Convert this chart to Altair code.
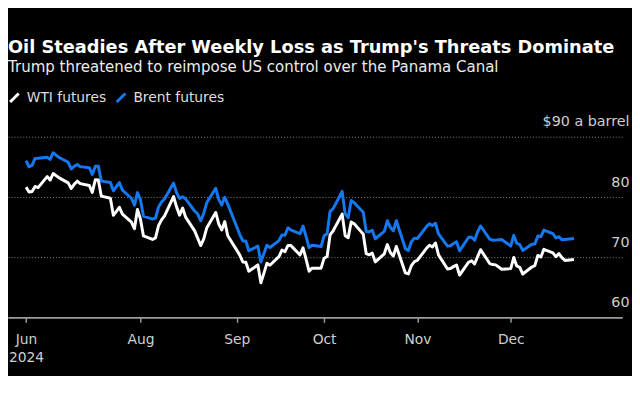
import altair as alt
import pandas as pd

FONT = "'DejaVu Sans', sans-serif"

# Trading days (Jun 24 - Dec 23, 2024)
jun_days = [24, 25, 26, 27, 28]
jul_days = [1, 2, 3, 5, 8, 9, 10, 11, 12, 15, 16, 17, 18, 19, 22, 23, 24, 25, 26, 29, 30, 31]
aug_days = [1, 2, 5, 6, 7, 8, 9, 12, 13, 14, 15, 16, 19, 20, 21, 22, 23, 26, 27, 28, 29, 30]
sep_days = [3, 4, 5, 6, 9, 10, 11, 12, 13, 16, 17, 18, 19, 20, 23, 24, 25, 26, 27, 30]
oct_days = [1, 2, 3, 4, 7, 8, 9, 10, 11, 14, 15, 16, 17, 18, 21, 22, 23, 24, 25, 28, 29, 30, 31]
nov_days = [1, 4, 5, 6, 7, 8, 11, 12, 13, 14, 15, 18, 19, 20, 21, 22, 25, 26, 27, 29]
dec_days = [2, 3, 4, 5, 6, 9, 10, 11, 12, 13, 16, 17, 18, 19, 20, 23]

wti = [
    81.63, 80.83, 80.90, 81.74, 81.54,
    83.38, 82.81, 83.88, 83.16, 82.33, 81.41, 82.10, 82.62, 82.21, 81.91, 80.76, 82.85, 82.82, 80.13, 79.78, 76.96, 77.59, 78.28, 77.16, 75.81, 74.73, 77.91,
    76.31, 73.52, 72.94, 73.20, 75.23, 76.19, 76.84, 80.06, 78.35, 76.98, 78.16, 76.65, 74.37, 73.17, 71.93, 73.01, 74.83, 77.42, 75.53, 74.52, 75.91, 73.55,
    70.34, 69.20, 69.15, 67.67, 68.71, 65.75, 67.31, 68.97, 68.65, 70.09, 71.19, 70.91, 71.95, 71.92, 70.37, 71.56, 69.69, 67.67, 68.18, 68.17,
    69.83, 70.10, 73.71, 74.38, 77.14, 73.57, 73.24, 75.85, 75.56, 73.83, 70.58, 70.39, 70.67, 69.22, 70.56, 72.09, 70.77, 70.19, 71.78, 67.38, 67.21, 68.61, 69.26,
    69.49, 71.47, 71.99, 71.69, 72.36, 70.38, 68.04, 68.12, 68.43, 68.70, 67.02, 69.16, 69.39, 68.87, 70.10, 71.24, 68.94, 68.77, 68.72, 68.00,
    68.10, 69.94, 68.54, 68.30, 67.20, 68.37, 68.59, 70.29, 70.02, 71.29, 70.71, 70.08, 70.58, 69.91, 69.46, 69.60,
]

brent = [
    86.01, 85.01, 85.25, 86.39, 86.41,
    86.60, 86.24, 87.34, 86.54, 85.75, 84.66, 85.08, 85.40, 85.03, 84.85, 83.73, 85.08, 85.11, 82.63, 82.40, 81.01, 81.71, 82.37, 81.13, 79.78, 78.63, 80.72,
    79.52, 76.81, 76.30, 76.48, 78.33, 79.16, 79.66, 82.30, 80.69, 79.76, 80.04, 79.68, 77.66, 77.20, 76.05, 77.22, 79.02, 81.43, 79.55, 78.65, 79.94, 78.80,
    73.75, 72.70, 72.69, 71.06, 71.84, 69.19, 70.61, 71.97, 71.61, 72.75, 73.70, 73.65, 74.88, 74.49, 73.90, 75.17, 73.46, 71.60, 71.98, 71.77,
    73.56, 73.90, 77.62, 78.05, 80.93, 77.18, 76.58, 79.40, 79.04, 77.46, 74.25, 74.22, 74.45, 73.06, 74.29, 76.04, 74.96, 74.38, 76.05, 71.42, 71.12, 72.55, 73.16,
    73.10, 75.08, 75.53, 75.25, 75.63, 73.87, 71.83, 71.89, 72.28, 72.56, 71.04, 73.30, 73.31, 72.81, 74.23, 75.17, 73.01, 72.81, 72.83, 72.94,
    71.83, 73.62, 72.31, 72.09, 71.12, 72.14, 72.19, 73.52, 73.41, 74.49, 73.91, 73.19, 73.39, 72.88, 72.94, 73.10,
]

series_names = ["WTI futures", "Brent futures"]
series_colors = ["#ffffff", "#1478f0"]
y_ticks = [60, 70, 80, 90]
x_ticks = [(2024, 6, 24), (2024, 8, 1), (2024, 9, 2), (2024, 10, 1), (2024, 11, 1), (2024, 12, 2)]
x_domain = [(2024, 6, 18), (2025, 1, 8)]

dates = []
for m, days in [(6, jun_days), (7, jul_days), (8, aug_days), (9, sep_days),
                (10, oct_days), (11, nov_days), (12, dec_days)]:
    for d in days:
        dates.append(f"2024-{m:02d}-{d:02d}")

df = pd.concat([
    pd.DataFrame({"date": dates, "series": series_names[0], "value": wti}),
    pd.DataFrame({"date": dates, "series": series_names[1], "value": brent}),
])


def dt(t):
    return alt.DateTime(year=t[0], month=t[1], date=t[2], utc=True)


x_axis = alt.Axis(
    values=[dt(t) for t in x_ticks],
    labelExpr="utcFormat(datum.value, '%m%d') == '0624' ? ['Jun', '2024'] : utcFormat(datum.value, '%b')",
    grid=False,
    domainColor="#9a9a9a",
    domainWidth=2,
    tickColor="#9a9a9a",
    tickWidth=1.5,
    tickSize=5,
    labelColor="#cfcfcf",
    labelFont=FONT,
    labelFontSize=14,
    labelPadding=10,
    labelLineHeight=19,
    labelFlush=False,
    labelOverlap=False,
)

y_axis = alt.Axis(
    orient="right",
    values=y_ticks,
    labelExpr="datum.value == 90 ? '$90 a barrel' : datum.label",
    domain=False,
    ticks=False,
    tickSize=0,
    grid=True,
    gridColor="#8a8a8a",
    gridDash=[1, 2],
    gridWidth=1,
    labelAlign="right",
    labelBaseline="alphabetic",
    labelPadding=7,
    labelOffset=-11,
    labelColor="#cfcfcf",
    labelFont=FONT,
    labelFontSize=14.5,
)

base = alt.Chart(df).mark_line(strokeWidth=3, strokeJoin="round").encode(
    x=alt.X("date:T", title=None, axis=x_axis,
            scale=alt.Scale(type="utc", domain=[dt(t) for t in x_domain])),
    y=alt.Y("value:Q", title=None, axis=y_axis,
            scale=alt.Scale(domain=[60, 90], zero=False, nice=False)),
    color=alt.Color(
        "series:N",
        scale=alt.Scale(domain=series_names, range=series_colors),
        legend=alt.Legend(
            title=None,
            orient="none",
            legendX=-4,
            legendY=-50,
            direction="horizontal",
            symbolType="M-0.5,0.5L0.5,-0.5",
            symbolSize=300,
            symbolStrokeWidth=3,
            labelColor="#dedede",
            labelFont=FONT,
            labelFontSize=14,
            labelOffset=2,
            columnPadding=4,
            padding=0,
        ),
    ),
)

brent_layer = base.transform_filter(alt.datum.series == "Brent futures")
wti_layer = base.transform_filter(alt.datum.series == "WTI futures")

chart = alt.layer(brent_layer, wti_layer).properties(
    width=622,
    height=183,
    background="black",
    padding={"left": 0, "top": 128, "right": 10, "bottom": 57},
    autosize=alt.AutoSizeParams(type="none"),
    title=alt.TitleParams(
        text="Oil Steadies After Weekly Loss as Trump's Threats Dominate",
        subtitle="Trump threatened to reimpose US control over the Panama Canal",
        anchor="start",
        dx=4,
        color="#ffffff",
        font=FONT,
        fontSize=18,
        fontWeight="bold",
        subtitleColor="#ececec",
        subtitleFont=FONT,
        subtitleFontSize=15.2,
        subtitlePadding=4,
        offset=12,
    ),
).configure_view(stroke=None)

chart.save("out.html", embed_options={"renderer": "svg", "actions": False})
